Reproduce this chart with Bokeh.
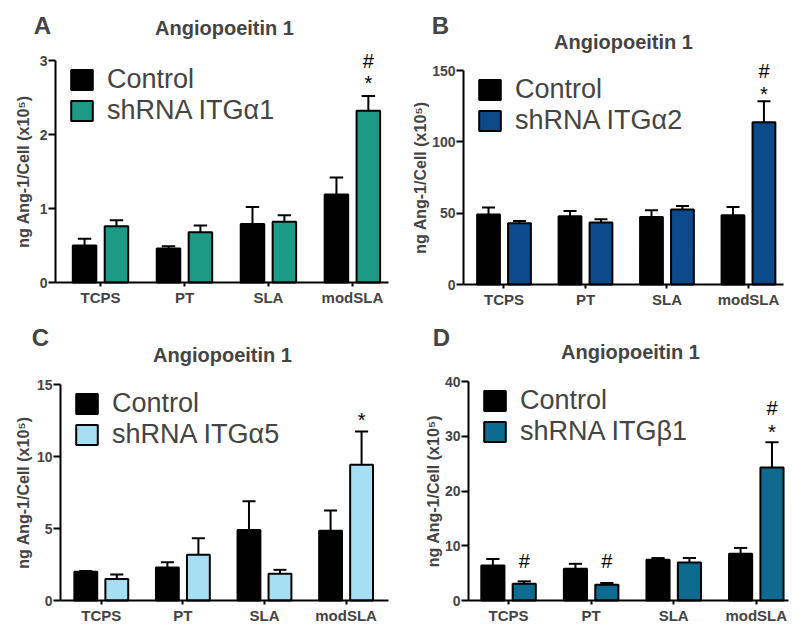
import numpy as np
from bokeh.plotting import figure
from bokeh.models import Range1d, FixedTicker, Legend, LegendItem, Label
from bokeh.layouts import column, row
from bokeh.embed import file_html
from bokeh.resources import INLINE

categories = ["TCPS", "PT", "SLA", "modSLA"]

# Panel A (ITGa1)
a_ctrl = [0.50, 0.46, 0.79, 1.19]
a_ctrl_err = [0.09, 0.03, 0.23, 0.23]
a_sh = [0.76, 0.68, 0.82, 2.32]
a_sh_err = [0.08, 0.09, 0.09, 0.20]
a_yticks = [0, 1, 2, 3]
a_marks_text = ["#", "*"]
a_marks_cat = [4, 4]
a_marks_y = [3.0, 2.76]

# Panel B (ITGa2)
b_ctrl = [49.0, 47.8, 47.4, 48.5]
b_ctrl_err = [4.9, 3.7, 4.6, 5.8]
b_sh = [42.9, 43.4, 52.5, 113.8]
b_sh_err = [1.6, 2.3, 2.5, 14.7]
b_yticks = [0, 50, 100, 150]
b_marks_text = ["#", "*"]
b_marks_cat = [4, 4]
b_marks_y = [150, 137.3]

# Panel C (ITGa5)
c_ctrl = [2.0, 2.3, 4.9, 4.85]
c_ctrl_err = [0.05, 0.35, 2.0, 1.4]
c_sh = [1.5, 3.17, 1.85, 9.42]
c_sh_err = [0.3, 1.16, 0.28, 2.32]
c_yticks = [0, 5, 10, 15]
c_marks_text = ["*"]
c_marks_cat = [4]
c_marks_y = [12.85]

# Panel D (ITGb1)
d_ctrl = [6.4, 5.8, 7.45, 8.55]
d_ctrl_err = [1.2, 0.9, 0.3, 1.05]
d_sh = [3.05, 2.87, 6.96, 24.3]
d_sh_err = [0.45, 0.33, 0.8, 4.6]
d_yticks = [0, 10, 20, 30, 40]
d_marks_text = ["#", "*", "#", "#"]
d_marks_cat = [4, 4, 1, 2]
d_marks_y = [35.1, 31.6, 7.3, 7.3]

FONT = "Liberation Sans"
OFF = 0.19
BW = 0.28
CAP = 0.08
YLABEL = "ng Ang-1/Cell (x10\u2075)"
TITLE = "Angiopoeitin 1"
W = 400
H = 313


def panel(letter, ctrl, ctrl_err, sh, sh_err, color, sh_label, yticks,
          marks_text, marks_cat, marks_y, xr, origin, box, lab_standoff,
          title_px, letter_px):
    # box: axis corner positions in page pixels (left, right, top, bottom)
    ox, oy = origin
    axL, axR, axT, axB = box[0] - ox, box[1] - ox, box[2] - oy, box[3] - oy
    ymax = yticks[-1]
    sx = (axR - axL) / (xr[1] - xr[0])
    sy = (axB - axT) / ymax

    def dx(px):
        return xr[0] + (px - axL) / sx

    def dy(py):
        return (axB - py) / sy

    p = figure(width=W, height=H, x_range=Range1d(dx(0), dx(W)),
               y_range=Range1d(dy(H), dy(0)), output_backend="svg",
               toolbar_location=None, min_border=0, min_border_left=0,
               min_border_right=0, min_border_top=0, min_border_bottom=0)
    p.title.visible = False
    p.outline_line_color = None
    p.grid.visible = False
    pos = np.arange(1, len(categories) + 1)
    xc = pos - OFF
    xs = pos + OFF
    for x, v, e in ((xc, ctrl, ctrl_err), (xs, sh, sh_err)):
        v = np.array(v, dtype=float)
        e = np.array(e, dtype=float)
        p.segment(x0=x, y0=v, x1=x, y1=v + e, line_color="black", line_width=2)
        p.segment(x0=x - CAP, y0=v + e, x1=x + CAP, y1=v + e,
                  line_color="black", line_width=2)
    rc = p.vbar(x=xc, top=ctrl, width=BW, fill_color="black",
                line_color="black", line_width=2)
    rs = p.vbar(x=xs, top=sh, width=BW, fill_color=color,
                line_color="black", line_width=2)

    ya = p.yaxis[0]
    ya.fixed_location = xr[0]
    ya.bounds = (0, ymax)
    ya.ticker = FixedTicker(ticks=yticks)
    ya.axis_label = YLABEL
    ya.axis_label_text_font = FONT
    ya.axis_label_text_font_style = "bold"
    ya.axis_label_text_font_size = "16px"
    ya.axis_label_standoff = lab_standoff
    ya.major_label_text_font = FONT
    ya.major_label_text_font_style = "bold"
    ya.major_label_text_font_size = "14px"
    ya.major_label_standoff = 1
    ya.major_tick_in = 0
    ya.major_tick_out = 7
    ya.minor_tick_in = 0
    ya.minor_tick_out = 0
    ya.axis_line_width = 2
    ya.major_tick_line_width = 2

    xa = p.xaxis[0]
    xa.fixed_location = 0
    xa.bounds = (xr[0], xr[1])
    xa.ticker = FixedTicker(ticks=list(pos))
    xa.major_label_overrides = {int(i): c for i, c in zip(pos, categories)}
    xa.major_label_text_font = FONT
    xa.major_label_text_font_style = "bold"
    xa.major_label_text_font_size = "15px"
    xa.major_label_standoff = 2
    xa.major_tick_in = 0
    xa.major_tick_out = 4
    xa.minor_tick_in = 0
    xa.minor_tick_out = 0
    xa.axis_line_width = 2
    xa.major_tick_line_width = 2

    # significance marks (y values are visual centres)
    for t, c, y in zip(marks_text, marks_cat, marks_y):
        ya_ = y - (5 / sy if t == "*" else 0)
        p.add_layout(Label(x=c + OFF, y=ya_, text=t, text_align="center",
                           text_baseline="middle", text_font=FONT,
                           text_font_size="20px", text_color="black"))

    tx, ty = title_px[0] - ox, title_px[1] - oy
    p.add_layout(Label(x=dx(tx), y=dy(ty), text=TITLE,
                       text_align="center", text_baseline="middle",
                       text_font=FONT, text_font_style="bold",
                       text_font_size="20px"))
    lx, ly = letter_px[0] - ox, letter_px[1] - oy
    p.add_layout(Label(x=dx(lx), y=dy(ly), text=letter,
                       text_align="center", text_baseline="alphabetic",
                       text_font=FONT, text_font_style="bold",
                       text_font_size="24px"))

    leg_h = 62
    legend = Legend(items=[LegendItem(label="Control", renderers=[rc]),
                           LegendItem(label=sh_label, renderers=[rs])],
                    location=(axL + 13, H - (axT + 4) - leg_h), padding=0,
                    margin=0, spacing=-4, glyph_width=27, glyph_height=25,
                    label_height=25, label_standoff=12,
                    label_text_font=FONT, label_text_font_size="27px",
                    background_fill_alpha=0, border_line_color=None)
    p.add_layout(legend)
    return p


pA = panel("A", a_ctrl, a_ctrl_err, a_sh, a_sh_err, "#1d9a86",
           "shRNA ITG\u03b11", a_yticks, a_marks_text, a_marks_cat, a_marks_y,
           (0.464, 4.43), (0, 0), (55, 388, 60, 282), 5, (224, 27), (42, 25))
pB = panel("B", b_ctrl, b_ctrl_err, b_sh, b_sh_err, "#0c4a8b",
           "shRNA ITG\u03b12", b_yticks, b_marks_text, b_marks_cat, b_marks_y,
           (0.503, 4.43), (400, 0), (463, 783, 70, 284), 0, (623, 41), (440, 25))
pC = panel("C", c_ctrl, c_ctrl_err, c_sh, c_sh_err, "#a6def3",
           "shRNA ITG\u03b15", c_yticks, c_marks_text, c_marks_cat, c_marks_y,
           (0.5, 4.52), (0, 313), (60, 388, 384, 600), 2, (222, 354), (40, 337))
pD = panel("D", d_ctrl, d_ctrl_err, d_sh, d_sh_err, "#0e6a8e",
           "shRNA ITG\u03b21", d_yticks, d_marks_text, d_marks_cat, d_marks_y,
           (0.515, 4.39), (400, 313), (468, 788, 381, 600), 0, (630, 351), (441, 337))

layout = column(row(pA, pB), row(pC, pD))
open("out.html", "w").write(file_html(layout, INLINE))
